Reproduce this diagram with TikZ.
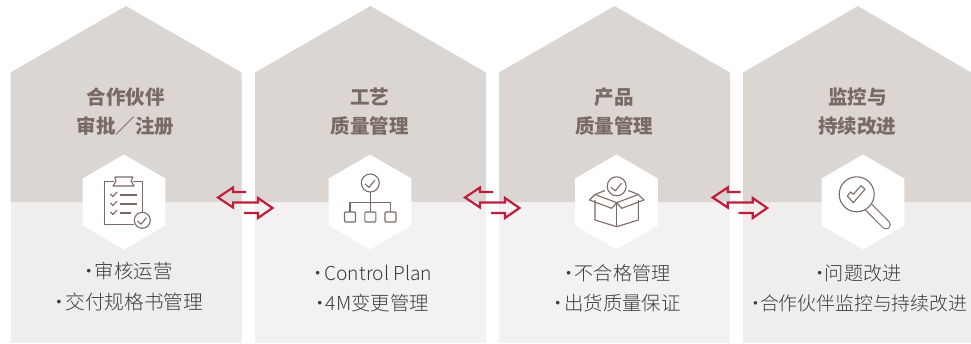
\documentclass[tikz,border=0pt]{standalone}
\usepackage{fontspec}
\setmainfont{Noto Sans CJK SC}
\newfontfamily\lightfont{Noto Sans CJK SC Light}
\definecolor{color_panel_top}{HTML}{DBD6D2}
\definecolor{color_panel_low}{HTML}{F0EEEC}
\definecolor{color_panel_alt}{HTML}{F3F1F1}
\definecolor{color_icon}{HTML}{7A6A64}
\definecolor{color_title}{HTML}{7A6A64}
\definecolor{color_body}{HTML}{3C3C3C}
\definecolor{color_arrow}{HTML}{BE1E3C}
\def\textsizepx{19.5}
\newcommand{\listdot}[1][12pt]{\makebox[#1]{·}}
\tikzset{
  titletext/.style={font=\fontsize{\textsizepx}{24}\selectfont\bfseries, text=color_title, inner sep=0pt},
  bodytext/.style={font=\lightfont\fontsize{#1}{24}\selectfont, text=color_body, inner sep=0pt},
  bodytext/.default=19.2,
  iconline/.style={draw=color_icon, line width=1.1pt, line join=round},
  arrowline/.style={draw=color_arrow, line width=2.2pt, miter limit=4},
}
\newcommand{\checkcircle}[3]{% x, y, radius
  \draw[iconline, fill=white] (#1,#2) circle (#3);
  \draw[iconline] ({#1-0.6*#3},{#2+0.1*#3}) -- ({#1-0.15*#3},{#2+0.48*#3}) -- ({#1+0.52*#3},{#2-0.33*#3});
}

\begin{document}
\begin{tikzpicture}[x=1pt,y=1pt,yscale=-1]
    \useasboundingbox (0,0) rectangle (971,343);

    % panels
    \foreach \l/\r/\p/\c in {10.5/241.5/126/color_panel_low, 255/486/370.5/color_panel_alt, 499/730/614.5/color_panel_alt, 743/971/858/color_panel_low} {
        \fill[\c] (\l,202) rectangle (\r,343);
        \fill[color_panel_top] (\l,72.5) -- (\p,6) -- (\r,72.5) -- (\r,202) -- (\l,202) -- cycle;
    }

    % white hexagons
    \foreach \c in {124,370,616.5,863}
        \fill[white] (\c,154.5) -- ({\c+41.3},178.5) -- ({\c+41.3},225.5) -- (\c,249.5) -- ({\c-41.3},225.5) -- ({\c-41.3},178.5) -- cycle;

    % double arrows
    \foreach \d in {0,247,494.7}
        \draw[arrowline] ({246+\d},192) -- ({233+\d},192) -- ({233+\d},187.5) -- ({218+\d},197.5) -- ({233+\d},207.5) -- ({233+\d},202.5) -- ({258+\d},202.5) -- ({258+\d},198) -- ({272.5+\d},208) -- ({258+\d},218) -- ({258+\d},213) -- ({244+\d},213);

    % titles
    \node[titletext] (title_partner_a) at (125.5,97) {合作伙伴};
    \node[titletext] (title_partner_b) at (125.5,126) {审批／注册};
    \node[titletext] (title_process_a) at (369.5,97) {工艺};
    \node[titletext] (title_process_b) at (369.5,126) {质量管理};
    \node[titletext] (title_product_a) at (614,97) {产品};
    \node[titletext] (title_product_b) at (614,126) {质量管理};
    \node[titletext] (title_monitor_a) at (857.3,97) {监控与};
    \node[titletext] (title_monitor_b) at (857.3,126) {持续改进};

    % lists
    \node[bodytext=19.4] (body_partner_a) at (127.7,271) {\listdot 审核运营};
    \node[bodytext=19.7] (body_partner_b) at (128.3,302) {\listdot 交付规格书管理};
    \node[bodytext] (body_process_a) at (372.4,273) {\listdot Control Plan};
    \node[bodytext=19.4] (body_process_b) at (371.5,303.5) {\listdot 4M变更管理};
    \node[bodytext=19.1] (body_product_a) at (616.6,273) {\listdot 不合格管理};
    \node[bodytext=19.4] (body_product_b) at (616.5,303.5) {\listdot 出货质量保证};
    \node[bodytext] (body_monitor_a) at (858.7,273.5) {\listdot[9pt]问题改进};
    \node[bodytext=18.85] (body_monitor_b) at (859.2,303.5) {\listdot[9pt]合作伙伴监控与持续改进};

    % clipboard
    \draw[iconline] (114,181.7) -- (104.5,181.7) -- (104.5,224.5) -- (134,224.5);
    \draw[iconline] (133,181.7) -- (142.7,181.7) -- (142.7,212);
    \draw[iconline] (115,177) -- (133,177) -- (131,181) -- (134,186) -- (113,186) -- (116,181) -- cycle;
    \foreach \y in {195,204,213} {
        \draw[iconline] (110.5,{\y-1}) -- (113,{\y+1.5}) -- (117,{\y-3});
    }
    \draw[iconline] (120,195) -- (137,195);
    \draw[iconline] (120,204) -- (137,204);
    \draw[iconline] (120,213) -- (131,213);
    \checkcircle{142.3}{220.3}{8}

    % tree
    \draw[iconline] (370.3,192) -- (370.3,212);
    \draw[iconline] (350,212) -- (350,202.5) -- (390.5,202.5) -- (390.5,212);
    \foreach \x in {350,370.3,390.5}
        \draw[iconline, rounded corners=1pt] ({\x-5.5},212) rectangle ({\x+5.5},222);
    \checkcircle{370.3}{183}{9}

    % open box
    \draw[iconline] (595,200) -- (595,220) -- (616.7,226.7) -- (638.3,220) -- (638.3,200);
    \draw[iconline] (616.7,202.7) -- (616.7,226.7);
    \draw[iconline] (595,194.5) -- (616.7,202.7) -- (638.3,194.5);
    \draw[iconline] (616.7,202.7) -- (611.7,208.3) -- (589.5,200) -- (595,194.5) -- (605,190.5);
    \draw[iconline] (616.7,202.7) -- (621.7,208.3) -- (644,200) -- (638.3,194.5) -- (628.3,190.5);
    \checkcircle{616.7}{186.3}{9.5}

    % magnifier
    \draw[color_icon, line width=9.5pt, line cap=round] (868.5,207) -- (886,224.7);
    \draw[white, line width=7.3pt, line cap=round] (868.5,207) -- (886,224.7);
    \draw[iconline, fill=white] (856.7,194.3) circle (17.5);
    \draw[iconline] (847.3,196) -- (853.3,202.7) -- (865,189.3) -- (861,185.7) -- (853.3,194.3) -- (850.7,192) -- cycle;
\end{tikzpicture}
\end{document}
